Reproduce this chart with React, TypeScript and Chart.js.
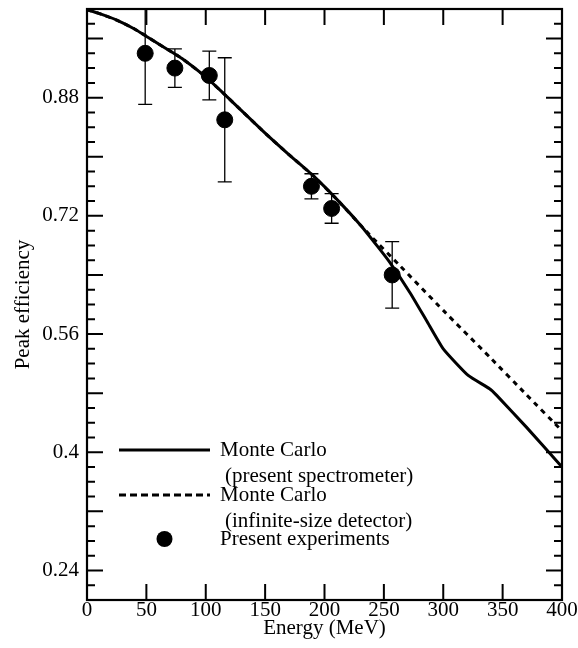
import React, { useEffect, useRef } from "react";
import { Chart, registerables } from "chart.js";

Chart.register(...registerables);

// ---- Data ----
const spectrometerEnergy = [0, 10, 25, 40, 60, 80, 100, 120, 150, 170, 190, 210, 230, 245, 255, 272, 286, 300, 321, 339, 345, 370, 400];
const spectrometerEff = [0.999, 0.994, 0.985, 0.973, 0.953, 0.933, 0.908, 0.878, 0.832, 0.803, 0.775, 0.743, 0.708, 0.678, 0.657, 0.616, 0.578, 0.540, 0.504, 0.486, 0.477, 0.434, 0.380];

const infiniteEnergy = [0, 10, 25, 40, 60, 80, 100, 120, 150, 170, 190, 210, 230, 240, 262, 300, 339, 370, 400];
const infiniteEff = [0.999, 0.994, 0.985, 0.973, 0.953, 0.933, 0.908, 0.878, 0.832, 0.803, 0.775, 0.743, 0.708, 0.691, 0.655, 0.592, 0.529, 0.478, 0.429];

const expEnergy = [49, 74, 103, 116, 189, 206, 257];
const expEff = [0.940, 0.920, 0.910, 0.850, 0.760, 0.730, 0.640];
const expErr = [0.069, 0.026, 0.033, 0.084, 0.017, 0.020, 0.045];

const xTickValues = [0, 50, 100, 150, 200, 250, 300, 350, 400];
const yTickLabels = [0.24, 0.4, 0.56, 0.72, 0.88];
const yMajorTicks = [0.24, 0.32, 0.4, 0.48, 0.56, 0.64, 0.72, 0.8, 0.88, 0.96];
const yMinorStep = 0.02;

const legendLabels = [
  ["Monte Carlo", "(present spectrometer)"],
  ["Monte Carlo", "(infinite-size detector)"],
  ["Present experiments"],
];

const FONT = "'Liberation Serif', 'DejaVu Serif', serif";

const decorPlugin = {
  id: "decor",
  beforeDatasetsDraw(chart: any) {
    const ctx = chart.ctx;
    const xs = chart.scales.x;
    const ys = chart.scales.y;
    const ca = chart.chartArea;
    ctx.save();
    ctx.beginPath();
    ctx.rect(ca.left, ca.top, ca.right - ca.left, ca.bottom - ca.top);
    ctx.clip();
    ctx.strokeStyle = "#000";
    ctx.lineWidth = 1.3;
    for (let i = 0; i < expEnergy.length; i++) {
      const px = xs.getPixelForValue(expEnergy[i]);
      const pTop = ys.getPixelForValue(expEff[i] + expErr[i]);
      const pBot = ys.getPixelForValue(expEff[i] - expErr[i]);
      ctx.beginPath();
      ctx.moveTo(px, pTop);
      ctx.lineTo(px, pBot);
      ctx.moveTo(px - 7, pTop);
      ctx.lineTo(px + 7, pTop);
      ctx.moveTo(px - 7, pBot);
      ctx.lineTo(px + 7, pBot);
      ctx.stroke();
    }
    ctx.restore();
  },
  afterDraw(chart: any) {
    const ctx = chart.ctx;
    const xs = chart.scales.x;
    const ys = chart.scales.y;
    const ca = chart.chartArea;
    ctx.save();
    ctx.strokeStyle = "#000";
    ctx.lineWidth = 2.2;
    ctx.lineCap = "butt";
    // frame
    ctx.strokeRect(ca.left, ca.top, ca.right - ca.left, ca.bottom - ca.top);
    // ticks
    ctx.lineWidth = 2;
    ctx.beginPath();
    for (const v of xTickValues) {
      if (v === xs.min || v === xs.max) continue;
      const px = xs.getPixelForValue(v);
      ctx.moveTo(px, ca.bottom);
      ctx.lineTo(px, ca.bottom - 16);
      ctx.moveTo(px, ca.top);
      ctx.lineTo(px, ca.top + 16);
    }
    const nMinor = Math.round((ys.max - ys.min) / yMinorStep);
    for (let i = 1; i < nMinor; i++) {
      const v = ys.min + i * yMinorStep;
      const isMajor = yMajorTicks.some((m) => Math.abs(m - v) < 1e-6);
      const len = isMajor ? 16 : 8;
      const py = ys.getPixelForValue(v);
      ctx.moveTo(ca.left, py);
      ctx.lineTo(ca.left + len, py);
      ctx.moveTo(ca.right, py);
      ctx.lineTo(ca.right - len, py);
    }
    ctx.stroke();

    // legend
    const lx0 = ca.left + 32;
    const lx1 = ca.left + 123;
    const tx = ca.left + 133;
    const rows = [ca.top + 441, ca.top + 486, ca.top + 530];
    ctx.font = "21px " + FONT;
    ctx.fillStyle = "#000";
    ctx.textBaseline = "middle";
    ctx.textAlign = "left";
    ctx.lineWidth = 3;
    ctx.setLineDash([]);
    ctx.beginPath();
    ctx.moveTo(lx0, rows[0]);
    ctx.lineTo(lx1, rows[0]);
    ctx.stroke();
    ctx.setLineDash([7, 4]);
    ctx.beginPath();
    ctx.moveTo(lx0, rows[1]);
    ctx.lineTo(lx1, rows[1]);
    ctx.stroke();
    ctx.setLineDash([]);
    ctx.beginPath();
    ctx.arc((lx0 + lx1) / 2, rows[2], 8, 0, Math.PI * 2);
    ctx.fill();
    for (let r = 0; r < legendLabels.length; r++) {
      const lines = legendLabels[r];
      ctx.fillText(lines[0], tx, rows[r]);
      if (lines[1]) ctx.fillText(lines[1], tx + 5, rows[r] + 26);
    }
    ctx.restore();
  },
};

export default function App() {
  const canvasRef = useRef<HTMLCanvasElement | null>(null);

  useEffect(() => {
    const canvas = canvasRef.current;
    if (!canvas) return;
    Chart.defaults.font.family = FONT;
    Chart.defaults.color = "#000";

    const chart = new Chart(canvas, {
      type: "scatter",
      data: {
        datasets: [
          {
            label: "Present experiments",
            data: expEnergy.map((x, i) => ({ x, y: expEff[i] })),
            backgroundColor: "#000",
            borderColor: "#000",
            pointRadius: 8,
            pointHoverRadius: 8,
            showLine: false,
            order: 0,
          },
          {
            label: "Monte Carlo (present spectrometer)",
            data: spectrometerEnergy.map((x, i) => ({ x, y: spectrometerEff[i] })),
            borderColor: "#000",
            borderWidth: 3,
            pointRadius: 0,
            showLine: true,
            tension: 0.15,
            order: 1,
          },
          {
            label: "Monte Carlo (infinite-size detector)",
            data: infiniteEnergy.map((x, i) => ({ x, y: infiniteEff[i] })),
            borderColor: "#000",
            borderWidth: 3,
            borderDash: [5, 5],
            pointRadius: 0,
            showLine: true,
            tension: 0.15,
            order: 2,
          },
        ],
      },
      options: {
        responsive: false,
        animation: false,
        events: [],
        layout: { padding: { top: 5, right: 16, left: 0, bottom: 0 } },
        plugins: { legend: { display: false }, tooltip: { enabled: false } },
        scales: {
          x: {
            type: "linear",
            min: 0,
            max: 400,
            grid: { display: false, drawTicks: false },
            border: { display: false },
            afterBuildTicks: (s: any) => {
              s.ticks = xTickValues.map((v) => ({ value: v }));
            },
            afterFit: (s: any) => {
              s.height = 48;
              s.paddingLeft = 0;
              s.paddingRight = 0;
            },
            ticks: {
              padding: 0,
              maxRotation: 0,
              autoSkip: false,
              font: { size: 21, lineHeight: 1 },
              color: "#000",
              callback: (v: any) => String(v),
            },
            title: {
              display: true,
              text: "Energy (MeV)",
              font: { size: 21, lineHeight: 1 },
              color: "#000",
              padding: { top: 0, bottom: 9 },
            },
          },
          y: {
            type: "linear",
            min: 0.2,
            max: 1.0,
            grid: { display: false, drawTicks: false },
            border: { display: false },
            afterBuildTicks: (s: any) => {
              s.ticks = yTickLabels.map((v) => ({ value: v }));
            },
            afterFit: (s: any) => {
              s.width = 87;
              s.paddingTop = 0;
              s.paddingBottom = 0;
            },
            ticks: {
              padding: 8,
              autoSkip: false,
              font: { size: 21, lineHeight: 1 },
              color: "#000",
              callback: (v: any) => String(Math.round(Number(v) * 100) / 100),
            },
            title: {
              display: true,
              text: "Peak efficiency",
              font: { size: 21, lineHeight: 1 },
              color: "#000",
              padding: { top: 13, bottom: 0 },
            },
          },
        },
      },
      plugins: [decorPlugin],
    } as any);

    return () => chart.destroy();
  }, []);

  return (
    <div style={{ position: "fixed", left: 0, top: 0, width: 578, height: 648, background: "#fff" }}>
      <canvas ref={canvasRef} width={578} height={648} style={{ display: "block", width: 578, height: 648 }} />
    </div>
  );
}
